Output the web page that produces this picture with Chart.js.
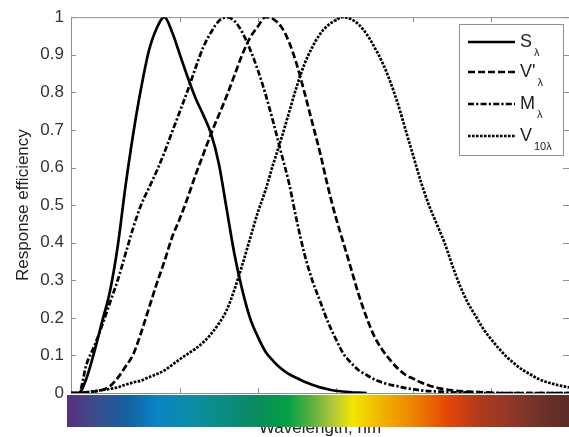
<!DOCTYPE html>
<html>
<head>
<meta charset="utf-8">
<script src="https://cdn.jsdelivr.net/npm/chart.js@4.4.1/dist/chart.umd.min.js"></script>
<style>
html, body { margin: 0; padding: 0; background: #fff; }
</style>
</head>
<body>
<canvas id="chart" width="569" height="437"></canvas>
<script>
// wavelength grid, nm
var wavelengths = [380,385,390,395,400,405,410,415,420,425,430,435,440,445,450,455,460,465,470,475,
	480,485,490,495,500,505,510,515,520,525,530,535,540,545,550,555,560,565,570,575,
	580,585,590,595,600,605,610,615,620,625,630,635,640,645,650,655,660,665,670,675,
	680,685,690,695,700];

var sLambda = [0,0,0.04,0.11,0.19,0.27,0.39,0.55,0.69,0.81,0.91,0.97,1.0,0.96,0.90,0.84,0.785,0.74,0.69,0.61,
	0.49,0.37,0.275,0.20,0.15,0.11,0.085,0.065,0.05,0.04,0.03,0.022,0.015,0.01,0.006,0.004,0.002,0.001,0,null,
	null,null,null,null,null,null,null,null,null,null,null,null,null,null,null,null,null,null,null,null,
	null,null,null,null,null];

var vPrimeLambda = [0,0,0.002,0.004,0.008,0.018,0.04,0.07,0.103,0.16,0.225,0.29,0.35,0.415,0.465,0.52,0.58,0.635,0.69,0.74,
	0.79,0.845,0.90,0.945,0.975,1.0,0.995,0.975,0.935,0.875,0.80,0.72,0.64,0.55,0.47,0.40,0.33,0.26,0.20,0.15,
	0.115,0.088,0.065,0.048,0.038,0.028,0.02,0.014,0.01,0.007,0.005,0.004,0.003,0.002,0.001,0,0,0,0,0,
	0,0,0,0,0];

var mLambda = [0,0,0.077,0.125,0.18,0.24,0.30,0.37,0.44,0.50,0.545,0.59,0.64,0.695,0.75,0.805,0.865,0.92,0.96,0.99,
	1.0,0.99,0.96,0.915,0.86,0.795,0.72,0.64,0.56,0.46,0.37,0.30,0.245,0.19,0.145,0.105,0.08,0.06,0.048,0.036,
	0.028,0.022,0.018,0.013,0.01,0.007,0.005,0.004,0.003,0.002,0.002,0.001,0.001,0,0,0,0,0,0,0,
	0,0,0,0,0];

var v10Lambda = [0,0,0.002,0.005,0.008,0.011,0.015,0.022,0.028,0.033,0.042,0.05,0.06,0.075,0.09,0.104,0.118,0.135,0.157,0.185,
	0.22,0.275,0.34,0.41,0.48,0.54,0.61,0.675,0.745,0.815,0.875,0.92,0.955,0.978,0.992,1.0,0.995,0.98,0.955,0.92,
	0.88,0.83,0.77,0.70,0.63,0.56,0.50,0.45,0.40,0.34,0.285,0.24,0.205,0.17,0.143,0.118,0.096,0.078,0.062,0.05,
	0.038,0.03,0.024,0.019,0.015];

var legendMain = ['S', "V'", 'M', 'V'];
var legendSub = ['\u03bb', '\u03bb', '\u03bb', '10\u03bb'];
var yTitle = 'Response efficiency';
var xTitle = 'Wavelength, nm';

var FONT = '"Liberation Sans", Arial, sans-serif';
var FRAME = '#8f8f8f';

var toPoints = function(values) {
	return values.map(function(v, i) {
		return { x: wavelengths[i], y: v };
	});
};

var dashes = [[], [7, 3], [6, 2.2, 2.2, 2.2], [2.6, 1.4]];
var seriesList = [sLambda, vPrimeLambda, mLambda, v10Lambda];

var datasets = seriesList.map(function(values, i) {
	return {
		label: legendMain[i] + legendSub[i],
		data: toPoints(values),
		borderColor: '#000',
		borderWidth: 2.7,
		borderDash: dashes[i],
		borderCapStyle: 'butt',
		pointRadius: 0,
		fill: false,
		cubicInterpolationMode: 'monotone'
	};
});

var framePlugin = {
	id: 'frame',
	beforeDatasetsDraw: function(chart) {
		var ctx = chart.ctx;
		var a = chart.chartArea;
		var xs = chart.scales.x;
		var ys = chart.scales.y;
		ctx.save();
		ctx.strokeStyle = FRAME;
		ctx.lineWidth = 1;
		ctx.beginPath();
		ctx.moveTo(a.left, a.top + 0.5);
		ctx.lineTo(a.right, a.top + 0.5);
		// inward ticks, x
		xs.ticks.forEach(function(t) {
			if (t.value % 50 !== 0 || t.value <= xs.min || t.value >= xs.max) return;
			var px = Math.round(xs.getPixelForValue(t.value)) + 0.5;
			ctx.moveTo(px, a.bottom);
			ctx.lineTo(px, a.bottom - 5);
			ctx.moveTo(px, a.top);
			ctx.lineTo(px, a.top + 5);
		});
		// inward ticks, y
		ys.ticks.forEach(function(t) {
			var py = Math.round(ys.getPixelForValue(t.value)) + 0.5;
			ctx.moveTo(a.left, py);
			ctx.lineTo(a.left + 5, py);
			ctx.moveTo(a.right, py);
			ctx.lineTo(a.right - 6, py);
		});
		ctx.stroke();
		ctx.restore();
	},
	afterDraw: function(chart) {
		var ctx = chart.ctx;
		ctx.save();

		// spectrum bar under the axis
		var bx = 67, by = 395, bw = 569 - 67, bh = 32;
		var g = ctx.createLinearGradient(bx, 0, bx + bw, 0);
		var stops = [
			[0.00, '#5a2d80'], [0.05, '#3f4a8a'], [0.12, '#1660a0'], [0.18, '#0a84c4'],
			[0.25, '#0a8da6'], [0.32, '#0b8c7e'], [0.38, '#0a8a5c'], [0.44, '#04a044'],
			[0.49, '#62b040'], [0.53, '#b2c83a'], [0.57, '#f2e600'], [0.62, '#f0b800'],
			[0.68, '#ee8c00'], [0.76, '#e44406'], [0.82, '#b03a1c'], [0.88, '#913828'],
			[0.95, '#6c3028'], [1.00, '#5a2c28']
		];
		stops.forEach(function(s) { g.addColorStop(s[0], s[1]); });
		ctx.fillStyle = g;
		ctx.fillRect(bx, by, bw, bh);

		// legend box
		var lx = 459, ly = 24, lw = 104, lh = 131;
		ctx.fillStyle = '#fff';
		ctx.fillRect(lx, ly, lw, lh);
		ctx.strokeStyle = FRAME;
		ctx.lineWidth = 1;
		ctx.strokeRect(lx + 0.5, ly + 0.5, lw, lh);
		var rows = [42, 72, 104, 136];
		for (var i = 0; i < legendMain.length; i++) {
			var y = rows[i];
			ctx.strokeStyle = '#000';
			ctx.lineWidth = 2.7;
			ctx.lineCap = 'butt';
			ctx.setLineDash(dashes[i]);
			ctx.beginPath();
			ctx.moveTo(468, y);
			ctx.lineTo(515, y);
			ctx.stroke();
			ctx.setLineDash([]);
			ctx.fillStyle = '#222';
			ctx.textBaseline = 'alphabetic';
			ctx.textAlign = 'left';
			ctx.font = '18px ' + FONT;
			ctx.fillText(legendMain[i], 520, y + 5);
			var w = ctx.measureText(legendMain[i]).width;
			ctx.font = '11px ' + FONT;
			ctx.fillText(legendSub[i], 520 + w + 2, y + 14);
		}
		ctx.restore();
	}
};

var config = {
	type: 'line',
	data: { datasets: datasets },
	options: {
		responsive: false,
		animation: false,
		layout: { padding: { top: 16, right: 0, bottom: 0, left: 0 } },
		plugins: {
			legend: { display: false },
			tooltip: { enabled: false }
		},
		scales: {
			x: {
				type: 'linear',
				min: 380,
				max: 700,
				ticks: { display: false, stepSize: 50 },
				grid: { display: false },
				border: { display: true, color: FRAME, width: 1 },
				title: {
					display: true,
					text: xTitle,
					color: '#222',
					font: { family: FONT, size: 17, lineHeight: 1 },
					padding: { top: 0, bottom: 0 }
				},
				afterFit: function(scale) { scale.height = 44; }
			},
			y: {
				min: 0,
				max: 1,
				ticks: {
					stepSize: 0.1,
					color: '#333',
					padding: 7,
					font: { family: FONT, size: 17 },
					callback: function(value) { return String(Number(value.toFixed(1))); }
				},
				grid: { display: false, drawTicks: false },
				border: { display: true, color: FRAME, width: 1 },
				title: {
					display: true,
					text: yTitle,
					color: '#222',
					font: { family: FONT, size: 17, lineHeight: 1 },
					padding: { top: 15, bottom: 0 }
				},
				afterFit: function(scale) { scale.width = 71; }
			}
		}
	},
	plugins: [framePlugin]
};

var ctx = document.getElementById('chart').getContext('2d');
window.myChart = new Chart(ctx, config);
</script>
</body>
</html>
